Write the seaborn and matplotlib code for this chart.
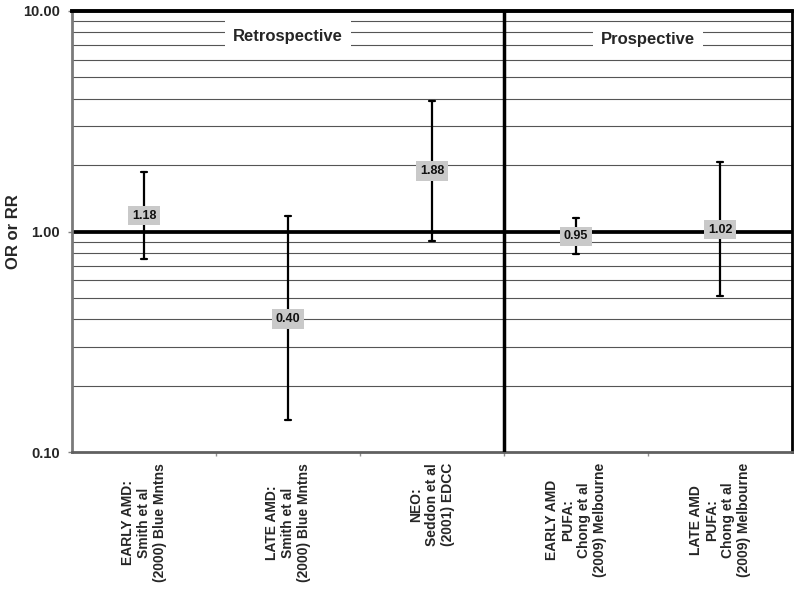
import numpy as np
import pandas as pd
import matplotlib
matplotlib.use("Agg")
import matplotlib.pyplot as plt
import seaborn as sns

# ---- data ----
studies = [
    "EARLY AMD:\nSmith et al\n(2000) Blue Mntns",
    "LATE AMD:\nSmith et al\n(2000) Blue Mntns",
    "NEO:\nSeddon et al\n(2001) EDCC",
    "EARLY AMD\nPUFA:\nChong et al\n(2009) Melbourne",
    "LATE AMD\nPUFA:\nChong et al\n(2009) Melbourne",
]
estimates = [1.18, 0.40, 1.88, 0.95, 1.02]
lower = [0.75, 0.14, 0.91, 0.79, 0.51]
upper = [1.87, 1.18, 3.90, 1.15, 2.06]
y_ticks = [0.1, 1.0, 10.0]
y_ticklabels = ["0.10", "1.00", "10.00"]
panel_titles = ["Retrospective", "Prospective"]

sns.set_style("white")
plt.rcParams["font.family"] = ["Liberation Sans", "DejaVu Sans"]

# long table: low / estimate / high per study -> median = estimate, 100% interval = CI
rows = []
for s, lo, est, hi in zip(studies, lower, estimates, upper):
    for v in (lo, est, hi):
        rows.append({"study": s, "value": v})
df = pd.DataFrame(rows)

fig = plt.figure(figsize=(8, 5.89), dpi=100)
ax = fig.add_axes([72 / 800, 1 - 452 / 589, 720 / 800, 441 / 589])
ax.set_yscale("log")

# horizontal grid lines at minor log positions
for dec in (0.1, 1.0):
    for m in range(2, 10):
        ax.axhline(m * dec, color="#555555", lw=0.8, zorder=1)
ax.axhline(1.0, color="black", lw=2.7, zorder=2)

sns.pointplot(data=df, x="study", y="value", order=studies,
              estimator="median", errorbar=("pi", 100),
              capsize=0.035, linestyle="none", marker="",
              color="black", err_kws={"linewidth": 1.6}, ax=ax)

ax.set_xlim(-0.5, 4.5)
ax.set_ylim(0.1, 10)

# divider between retrospective and prospective
ax.axvline(2.5, color="black", lw=2.5, zorder=3)

# value labels
for i, est in enumerate(estimates):
    ax.text(i, est, f"{est:.2f}", ha="center", va="center", fontsize=9,
            fontweight="bold", color="#111111", zorder=6,
            bbox=dict(boxstyle="square,pad=0.3", fc="#c9c9c9", ec="none"))

# panel titles
ax.text(1.0, 7.7, panel_titles[0], ha="center", va="center", fontsize=12,
        fontweight="bold", zorder=4,
        bbox=dict(boxstyle="square,pad=0.5", fc="white", ec="none"))
ax.text(3.5, 7.4, panel_titles[1], ha="center", va="center", fontsize=12,
        fontweight="bold", zorder=4,
        bbox=dict(boxstyle="square,pad=0.5", fc="white", ec="none"))

# axes styling
ax.set_yticks(y_ticks)
ax.set_yticklabels(y_ticklabels, fontsize=10.5, fontweight="bold")
ax.yaxis.set_minor_locator(matplotlib.ticker.NullLocator())
ax.tick_params(axis="y", which="major", length=3, width=1, color="#808080",
               pad=5.5, left=True)

ax.set_xticks(range(len(studies)))
ax.set_xticklabels(studies, rotation=90, fontsize=10, fontweight="bold",
                   linespacing=1.2)
for t in ax.get_xticklabels():
    t.set_multialignment("center")
ax.set_xticks([0.5, 1.5, 2.5, 3.5], minor=True)
ax.tick_params(axis="x", which="major", length=0, pad=8)
ax.tick_params(axis="x", which="minor", length=3, width=1, color="#909090",
               bottom=True)

ax.set_xlabel("")
ax.set_ylabel("")
for side in ["left", "right", "top", "bottom"]:
    ax.spines[side].set_visible(True)
ax.spines["left"].set_color("#7a7a7a")
ax.spines["left"].set_linewidth(2.0)
ax.spines["bottom"].set_color("#606060")
ax.spines["bottom"].set_linewidth(2.0)
ax.spines["top"].set_color("black")
ax.spines["top"].set_linewidth(2.8)
ax.spines["right"].set_color("black")
ax.spines["right"].set_linewidth(2.0)

fig.text(14 / 800, 1 - 231.5 / 589, "OR or RR", rotation=90, ha="center",
         va="center", fontsize=12, fontweight="bold")

fig.savefig("out.png", dpi=100)
